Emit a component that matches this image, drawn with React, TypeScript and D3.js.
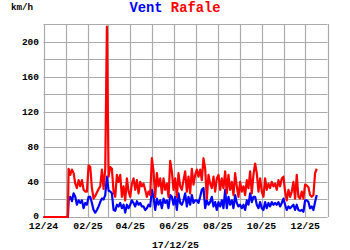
import React from "react";
import * as d3 from "d3";

// Data: samples from 2025-01-05 to 2025-12-17 (evenly spaced)
const seriesStart = "2025-01-05";
const seriesEnd = "2025-12-17";
const noDataDates = ["2024-12-01", "2025-01-04"];
const noDataValues = [0, 0];

const rafale = [
  55, 48, 54, 50, 38, 33, 42, 35, 42, 31, 29, 29, 59, 57, 33, 21,
  24, 28, 32, 35, 54, 32, 55, 217,
  46, 57, 55, 29, 23, 48, 40, 48, 23, 35, 19, 44, 29,
  23, 38, 44, 31, 42, 27, 40, 35, 38, 31, 23, 29, 25, 67,
  52, 23, 50, 35, 44, 27, 44, 31, 38, 23, 64, 52, 31,
  44, 23, 50, 35, 31, 42, 52, 29, 46, 27, 55, 37, 48,
  54, 46, 54, 42, 67, 55, 21, 48, 38, 33, 46, 29, 44,
  48, 31, 44, 33, 52, 27, 48, 31, 40, 25, 50, 35, 23,
  40, 29, 35, 25, 42, 33, 52, 27, 48, 61, 50, 29, 44,
  29, 23, 44, 31, 38, 33, 40, 35, 38, 31, 42, 35, 44, 46,
  29, 19, 31, 23, 29, 40, 21, 48, 23, 21, 29, 21, 37,
  36, 34, 25, 23, 25, 50, 55,
];

const vent = [
  19, 23, 18, 27, 23, 14, 19, 16, 19, 10, 16, 14, 23, 23, 16, 8,
  5, 8, 12, 17, 21, 20, 25, 46,
  30, 29, 27, 8, 7, 14, 12, 16, 10, 14, 5, 14, 10,
  14, 19, 16, 12, 18, 14, 16, 12, 12, 8, 10, 14, 12, 31,
  23, 8, 21, 14, 19, 10, 21, 16, 19, 10, 25, 23, 14,
  23, 8, 27, 16, 14, 19, 27, 12, 23, 14, 25, 16, 19,
  19, 16, 23, 31, 33, 10, 19, 14, 17, 23, 12, 17, 8,
  17, 12, 19, 10, 31, 10, 23, 14, 19, 10, 25, 16, 12,
  14, 10, 14, 8, 19, 14, 27, 17, 23, 23, 14, 10, 17,
  10, 8, 17, 10, 16, 12, 17, 14, 16, 14, 17, 12, 16, 21,
  14, 8, 12, 10, 12, 14, 8, 14, 8, 7, 8, 6, 19,
  19, 17, 10, 12, 8, 17, 25,
];

const yTicks = [0, 40, 80, 120, 160, 200];
const yGrid = [0, 20, 40, 60, 80, 100, 120, 140, 160, 180, 200, 220];
const dateLabel = "17/12/25";
const titleParts = [
  { text: "Vent", color: "#0000ff" },
  { text: " ", color: "#000" },
  { text: "Rafale", color: "#ff0000" },
];

const W = 350;
const H = 250;
const FONT = "'Liberation Mono', 'DejaVu Sans Mono', monospace";

export default function App() {
  const parse = d3.utcParse("%Y-%m-%d");
  const t0 = parse(seriesStart)!.getTime();
  const t1 = parse(seriesEnd)!.getTime();
  const n = rafale.length;
  const dates = rafale.map((_, i) => new Date(t0 + ((t1 - t0) * i) / (n - 1)));
  const zeroDates = noDataDates.map((d) => parse(d)!);

  const x = d3
    .scaleUtc()
    .domain([parse("2024-12-01")!, parse("2026-01-01")!])
    .range([43.5, 327.5]);
  const y = d3.scaleLinear().domain([0, 220]).range([217, 24]);

  const months = d3.utcMonth.range(parse("2024-12-01")!, parse("2026-01-02")!);
  const labelMonths = months.filter((_, i) => i % 2 === 0 && i < 13);
  const fmt = d3.utcFormat("%m/%y");

  type P = { d: Date; v: number };
  const line = d3
    .line<P>()
    .x((p) => x(p.d))
    .y((p) => y(p.v));

  const zeroPts: P[] = zeroDates.map((d, i) => ({ d, v: noDataValues[i] }));
  const redPts: P[] = [...zeroPts, ...dates.map((d, i) => ({ d, v: rafale[i] }))];
  const bluePts: P[] = [...zeroPts, ...dates.map((d, i) => ({ d, v: vent[i] }))];

  const [x0, x1] = x.range();
  const [yb, yt] = y.range();

  return (
    <svg
      width={W}
      height={H}
      style={{ position: "absolute", left: 0, top: 0, background: "#fff" }}
      fontFamily={FONT}
    >
      <rect x={0} y={0} width={W} height={H} fill="#fff" />
      {/* grid */}
      {yGrid.map((v) => (
        <line key={"h" + v} x1={x0} x2={x1} y1={Math.round(y(v)) + 0.5} y2={Math.round(y(v)) + 0.5} stroke="#aaaaaa" strokeWidth={1.2} />
      ))}
      {months.map((m) => (
        <line key={"v" + m.getTime()} x1={Math.round(x(m)) + 0.5} x2={Math.round(x(m)) + 0.5} y1={yt} y2={yb} stroke="#aaaaaa" strokeWidth={1.2} />
      ))}
      {/* series */}
      <path d={line(bluePts) || ""} fill="none" stroke="#0000ff" strokeWidth={2.2} strokeLinejoin="round" />
      <path d={line(redPts) || ""} fill="none" stroke="#ff0000" strokeWidth={2.2} strokeLinejoin="round" />
      {/* y labels */}
      {yTicks.map((v) => (
        <text key={"yt" + v} x={39} y={y(v) - (v === 0 ? 1 : 0)} dy="0.33em" textAnchor="end" fontSize={9.5} fontWeight="bold" fill="#000">
          {v}
        </text>
      ))}
      {/* x labels */}
      {labelMonths.map((m) => (
        <text key={"xt" + m.getTime()} x={x(m)} y={229} textAnchor="middle" fontSize={9.8} fontWeight="bold" fill="#000">
          {fmt(m)}
        </text>
      ))}
      <text x={175.5} y={248} textAnchor="middle" fontSize={9.8} fontWeight="bold" fill="#000">
        {dateLabel}
      </text>
      <text x={11} y={9.5} fontSize={9.2} fontWeight="bold" fill="#000">
        km/h
      </text>
      <text x={175} y={12} textAnchor="middle" fontSize={13.8} fontWeight="bold">
        {titleParts.map((p, i) => (
          <tspan key={i} fill={p.color}>
            {p.text}
          </tspan>
        ))}
      </text>
    </svg>
  );
}
